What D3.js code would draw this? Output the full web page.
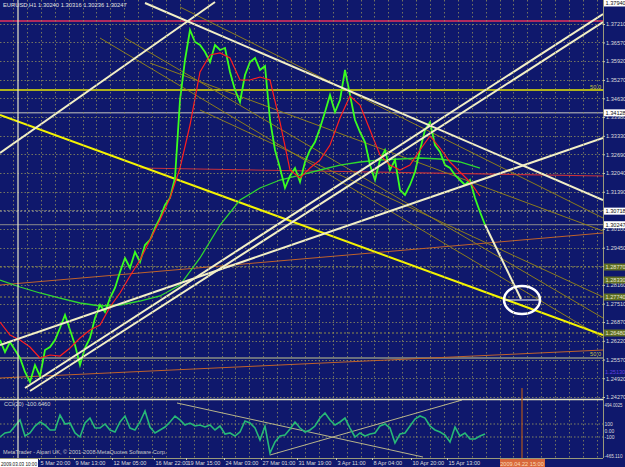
<!DOCTYPE html>
<html>
<head>
<meta charset="utf-8">
<script src="https://cdn.jsdelivr.net/npm/d3@7"></script>
<style>
body { margin: 0; background: #0f186c; }
svg { display: block; }
text { font-family: "Liberation Sans", Arial, sans-serif; }
</style>
</head>
<body>
<div id="chart"></div>
<script>
var width = 625;
var height = 467;
var plotRight = 603;
var mainBottom = 398;
var cciTop = 400;
var cciBottom = 458;

var titleText = "EURUSD,H1  1.30240 1.30316 1.30236 1.30247";
var cciTitle = "CCI(20) -100.6460";
var copyright = "MetaTrader - Alpari UK, \u00a9 2001-2008 MetaQuotes Software Corp.";

// H1 closes, one point every 2.5 bars
var closeStep = 2.5;
var closes = [1.26247, 1.25831, 1.26178, 1.25900, 1.25623, 1.25137, 1.24790, 1.25380, 1.24998, 1.25900,
	1.26004, 1.26247, 1.26664, 1.27115, 1.26594, 1.26074, 1.25380, 1.25970, 1.26317, 1.27011,
	1.27462, 1.27219, 1.27704, 1.28051, 1.28606, 1.29092, 1.28745, 1.29300, 1.28953, 1.29543,
	1.29717, 1.30133, 1.30480, 1.30931, 1.31174, 1.31867, 1.34573, 1.35961, 1.37002, 1.36586,
	1.36481, 1.36239, 1.35892, 1.36481, 1.36308, 1.36377, 1.35545, 1.34920, 1.34504, 1.35441,
	1.35892, 1.36030, 1.35614, 1.35753, 1.33880, 1.32839, 1.32214, 1.31521, 1.31937, 1.32214,
	1.31729, 1.32423, 1.32839, 1.33116, 1.33602, 1.34157, 1.34747, 1.34157, 1.34573, 1.35614,
	1.34747, 1.33880, 1.33463, 1.33116, 1.32318, 1.31798, 1.32492, 1.32839, 1.32145, 1.32492,
	1.31451, 1.31278, 1.31625, 1.32076, 1.32839, 1.33533, 1.33810, 1.33012, 1.32769, 1.32318,
	1.32214, 1.31971, 1.31798, 1.31625, 1.31798, 1.31174, 1.30688, 1.30247];

var redStep = 5;
var redMa = [1.26872, 1.26421, 1.26247, 1.26004, 1.25623, 1.25727, 1.25692, 1.25970, 1.26317, 1.26594,
	1.26768, 1.27392, 1.27878, 1.28468, 1.29023, 1.29717, 1.30410, 1.31174, 1.32214, 1.33706,
	1.35545, 1.36135, 1.36204, 1.36030, 1.35267, 1.35267, 1.35371, 1.35267, 1.33810, 1.32145,
	1.31867, 1.32214, 1.32492, 1.33012, 1.33949, 1.34712, 1.34400, 1.33533, 1.32665, 1.32318,
	1.32145, 1.32318, 1.32839, 1.33325, 1.32908, 1.32423, 1.32076, 1.31729, 1.31243];

var greenStep = 10;
var greenMa = [1.28329, 1.28086, 1.27878, 1.27704, 1.27531, 1.27427, 1.27462, 1.27600, 1.27774, 1.28155,
	1.29092, 1.30237, 1.31104, 1.31521, 1.31798, 1.31971, 1.32145, 1.32318, 1.32423, 1.32492,
	1.32527, 1.32561, 1.32527, 1.32423, 1.32214];

var cciStep = 2.5;
var cci = [-100, -38, -23, 69, 162, -85, -38, 69, 131, 85,
	8, 8, 238, 100, 115, -38, -100, 115, 192, 38,
	38, 100, 8, -23, 131, 223, 38, 8, 131, 300,
	54, -38, 8, 54, 131, 223, 162, 85, 115, 69,
	85, 54, 85, 8, 69, -54, -38, -85, -23, 146,
	115, 38, -146, 69, -346, -177, -85, -69, 23, 131,
	38, -23, 8, 69, 192, 269, 162, 85, 131, 192,
	38, -100, -38, -85, -54, -38, 69, 100, 38, -192,
	-54, -38, 69, 177, 223, 192, 69, 8, -23, -69,
	-177, 54, -85, -38, -131, -131, -85, -54];

var priceTicks = [1.37210, 1.36570, 1.35920, 1.35270, 1.34630, 1.33980, 1.33330, 1.32690, 1.32040, 1.31390,
	1.30750, 1.30100, 1.29450, 1.28810, 1.28160, 1.27510, 1.26870, 1.26220, 1.25570, 1.24920, 1.24270];

var timeBars = [19.5, 37, 56, 77, 93, 112, 130.5, 148.5, 168, 186, 205.5, 223.5];
var timeLabels = ["5 Mar 20:00", "9 Mar 13:00", "12 Mar 05:00", "16 Mar 22:00", "19 Mar 15:00", "24 Mar 03:00",
	"27 Mar 01:00", "31 Mar 19:00", "3 Apr 11:00", "8 Apr 04:00", "10 Apr 20:00", "15 Apr 13:00"];
var firstTime = "2009.03.03 10:00";
var markerTime = "2009.04.22 15:00";
var markerBar = 261;
var separatorBar = 9;

// horizontal levels: price, kind
var levelPrices = [1.37314, 1.34920, 1.34128, 1.30718, 1.30247, 1.28780, 1.27739, 1.26490, 1.25623];
var levelKinds = ["red", "yellow", "grey", "dotgrey", "bid", "olive", "olive", "olive", "pale"];

// trend lines: [bar1, price1, bar2, price2]
var whiteLines = [
	[72.5, 1.37939, 301.5, 1.31104],
	[12.5, 1.24583, 301.5, 1.37557],
	[15, 1.24478, 301.5, 1.37279],
	[0, 1.32735, 107.5, 1.37973],
	[0, 1.26074, 301.5, 1.33255],
	[242.5, 1.30247, 260.5, 1.27670]
];
var yellowLines = [[0, 1.34053, 301.5, 1.26421]];
var oliveLines = [
	[50, 1.36724, 301.5, 1.26317],
	[62.5, 1.36724, 301.5, 1.27011],
	[75, 1.35857, 301.5, 1.30029],
	[90, 1.37800, 301.5, 1.30480],
	[100, 1.34226, 301.5, 1.27739]
];
var redLines = [[70, 1.32214, 301.5, 1.31937]];
var orangeLines = [[0, 1.28155, 301.5, 1.29960], [0, 1.24929, 301.5, 1.25900]];
var cciLines = [[88.5, 423, 211.5, -408], [135, -377, 231, 469]];

var target = {bar: 261, price: 1.27635};

// boxed price labels: price, text, kind
var boxPrices = [1.37939, 1.34128, 1.30718, 1.30247, 1.28780, 1.28329, 1.27739, 1.26490];
var boxTexts = ["1.37940", "1.34128", "1.30718", "1.30247", "1.28770", "1.28330", "1.27740", "1.26480"];
var boxKinds = ["white", "white", "white", "white", "green", "green", "green", "green"];

var x = d3.scaleLinear().domain([0, 300]).range([0, 600]);
var y = d3.scaleLinear().domain([1.2427, 1.3721]).range([397, 24]);
var yc = d3.scaleLinear().domain([-100, 100]).range([437, 424]);

var svg = d3.select("#chart").append("svg")
	.attr("width", width)
	.attr("height", height);

svg.append("rect").attr("width", width).attr("height", height).attr("fill", "#0f186c");

var defs = svg.append("defs");
defs.append("clipPath").attr("id", "clipMain").append("rect")
	.attr("x", 0).attr("y", 0).attr("width", plotRight).attr("height", mainBottom);
defs.append("clipPath").attr("id", "clipCci").append("rect")
	.attr("x", 0).attr("y", cciTop).attr("width", plotRight).attr("height", cciBottom - cciTop);

var gridColor = "#8e8e5e";

// grid
var main = svg.append("g").attr("clip-path", "url(#clipMain)");
main.selectAll("line.hgrid")
	.data(priceTicks)
	.enter()
	.append("line")
	.attr("x1", 0).attr("x2", plotRight)
	.attr("y1", function (d) { return Math.round(y(d)) + 0.5; })
	.attr("y2", function (d) { return Math.round(y(d)) + 0.5; })
	.attr("stroke", gridColor).attr("stroke-width", 0.8).attr("stroke-dasharray", "1.5,2");

var vgrid = d3.range(6.5, 301, 6.95);
svg.selectAll("line.vgrid")
	.data(vgrid)
	.enter()
	.append("line")
	.attr("x1", function (d) { return Math.round(x(d)) + 0.5; })
	.attr("x2", function (d) { return Math.round(x(d)) + 0.5; })
	.attr("y1", 0).attr("y2", cciBottom)
	.attr("stroke", gridColor).attr("stroke-width", 0.8).attr("stroke-dasharray", "1.5,2.5");

var levelStyle = {
	red: ["#e8305a", 1.6, null],
	yellow: ["#e6e600", 1.6, null],
	grey: ["#c8c8c0", 1, null],
	dotgrey: ["#9a9a9a", 1, "2,2"],
	bid: ["#8c8c8c", 1, null],
	olive: ["#8e8a4a", 1, "2,2"],
	pale: ["#c8c890", 1.2, null]
};

main.selectAll("line.level")
	.data(levelPrices)
	.enter()
	.append("line")
	.attr("x1", 0).attr("x2", plotRight)
	.attr("y1", function (d) { return y(d); })
	.attr("y2", function (d) { return y(d); })
	.attr("stroke", function (d, i) { return levelStyle[levelKinds[i]][0]; })
	.attr("stroke-width", function (d, i) { return levelStyle[levelKinds[i]][1]; })
	.attr("stroke-dasharray", function (d, i) { return levelStyle[levelKinds[i]][2]; });

function drawSegments(g, data, color, w, yScale)
{
	g.selectAll(null)
		.data(data)
		.enter()
		.append("line")
		.attr("x1", function (d) { return x(d[0]); })
		.attr("y1", function (d) { return yScale(d[1]); })
		.attr("x2", function (d) { return x(d[2]); })
		.attr("y2", function (d) { return yScale(d[3]); })
		.attr("stroke", color)
		.attr("stroke-width", w);
}

drawSegments(main, orangeLines, "#c0622a", 1, y);
drawSegments(main, redLines, "#c8303c", 1.1, y);
drawSegments(main, oliveLines, "#8c7c1c", 1, y);
drawSegments(main, yellowLines, "#f4f400", 2, y);

// moving averages and price
function series(values, step)
{
	return values.map(function (v, i) { return [x(i * step), y(v)]; });
}
var line = d3.line();

main.append("path")
	.attr("d", line(series(greenMa, greenStep)))
	.attr("fill", "none").attr("stroke", "#2fd82f").attr("stroke-width", 1.3);

main.append("path")
	.attr("d", line(series(closes, closeStep)))
	.attr("fill", "none").attr("stroke", "#39ff1e").attr("stroke-width", 1.8)
	.attr("stroke-linejoin", "miter");

main.append("path")
	.attr("d", line(series(redMa, redStep)))
	.attr("fill", "none").attr("stroke", "#ff1e1e").attr("stroke-width", 1.2);

drawSegments(main, whiteLines, "#f2efc6", 2, y);

// target ellipse
main.append("ellipse")
	.attr("cx", x(target.bar))
	.attr("cy", y(target.price))
	.attr("rx", x(target.bar + 9) - x(target.bar))
	.attr("ry", 14)
	.attr("fill", "none").attr("stroke", "#ffffff").attr("stroke-width", 2.5);
main.append("line")
	.attr("x1", x(target.bar - 9)).attr("x2", x(target.bar + 9))
	.attr("y1", y(target.price)).attr("y2", y(target.price))
	.attr("stroke", "#ffffff").attr("stroke-width", 1.2);

// fib labels
var fibLabels = [[1.34920, "50.0"], [1.25623, "50.0"]];
svg.selectAll("text.fib")
	.data(fibLabels)
	.enter()
	.append("text")
	.attr("x", 601).attr("y", function (d) { return y(d[0]) - 1.5; })
	.attr("text-anchor", "end")
	.attr("font-size", 5.6)
	.attr("fill", "#c8c040")
	.text(function (d) { return d[1]; });

// CCI window
var sub = svg.append("g").attr("clip-path", "url(#clipCci)");
sub.selectAll("line.clevel")
	.data([100, -100])
	.enter()
	.append("line")
	.attr("x1", 0).attr("x2", plotRight)
	.attr("y1", function (d) { return yc(d); })
	.attr("y2", function (d) { return yc(d); })
	.attr("stroke", "#a0a060").attr("stroke-width", 0.8).attr("stroke-dasharray", "1.5,2");

drawSegments(sub, cciLines, "#b8b48a", 1, yc);

sub.append("path")
	.attr("d", d3.line()(cci.map(function (v, i) { return [x(i * cciStep), yc(v)]; })))
	.attr("fill", "none").attr("stroke", "#27b877").attr("stroke-width", 1.6);

// separators and frame
svg.append("line").attr("x1", 0).attr("x2", plotRight).attr("y1", 399.5).attr("y2", 399.5)
	.attr("stroke", "#e8e6c8").attr("stroke-width", 1.5);
svg.append("line").attr("x1", 0).attr("x2", plotRight).attr("y1", cciBottom + 0.5).attr("y2", cciBottom + 0.5)
	.attr("stroke", "#9a9a7a").attr("stroke-width", 1);
svg.append("line").attr("x1", plotRight + 0.5).attr("x2", plotRight + 0.5).attr("y1", 0).attr("y2", cciBottom)
	.attr("stroke", "#9a9a7a").attr("stroke-width", 1);
svg.append("line").attr("x1", x(separatorBar)).attr("x2", x(separatorBar)).attr("y1", 0).attr("y2", cciBottom)
	.attr("stroke", "#e8e6c8").attr("stroke-width", 1.2);
svg.append("line").attr("x1", x(markerBar)).attr("x2", x(markerBar)).attr("y1", 388).attr("y2", cciBottom)
	.attr("stroke", "#b0561c").attr("stroke-width", 1.2);

// price axis
var priceAxis = svg.append("g")
	.attr("transform", "translate(" + plotRight + ",0)")
	.call(d3.axisRight(y).tickValues(priceTicks).tickSize(2).tickPadding(1).tickFormat(d3.format(".5f")));
priceAxis.select(".domain").remove();
priceAxis.selectAll("line").attr("stroke", "#c8c8b0");
priceAxis.selectAll("text").attr("font-size", 5.6).attr("fill", "#dcdcdc")
	.attr("font-family", "Liberation Sans, Arial, sans-serif");

// boxed price labels
var boxes = svg.selectAll("g.box")
	.data(boxPrices)
	.enter()
	.append("g")
	.attr("transform", function (d) { return "translate(" + (plotRight + 1) + "," + y(d) + ")"; });
boxes.append("rect")
	.attr("x", 0).attr("y", -3.5).attr("width", 21).attr("height", 7)
	.attr("fill", function (d, i) { return boxKinds[i] == "white" ? "#ffffff" : "#5f6e22"; });
boxes.append("text")
	.attr("x", 1.5).attr("y", 2)
	.attr("font-size", 5.6)
	.attr("fill", function (d, i) { return boxKinds[i] == "white" ? "#101010" : "#e8e8d0"; })
	.text(function (d, i) { return boxTexts[i]; });

svg.append("text").attr("x", 605).attr("y", 374).attr("font-size", 5.6).attr("fill", "#6040e0").text("1.25130");

// CCI scale labels
var cciScaleValues = [494.0025, 100, 0, -100, -465.11];
var cciScaleTexts = ["494.0025", "100", "0.00", "-100", "-465.110"];
var cciScaleY = d3.scaleLinear().domain([-465.11, 494.0025]).range([456, 405]);
svg.selectAll("text.cciLab")
	.data(cciScaleValues)
	.enter()
	.append("text")
	.attr("x", 604.5)
	.attr("y", function (d, i) { return (i == 0 || i == 4) ? cciScaleY(d) + 2 : yc(d) + 2; })
	.attr("font-size", 5)
	.attr("fill", "#dcdcdc")
	.attr("textLength", function (d, i) { return (i == 0 || i == 4) ? 18 : null; })
	.attr("lengthAdjust", "spacingAndGlyphs")
	.text(function (d, i) { return cciScaleTexts[i]; });

// time axis
var timeAxis = svg.append("g")
	.attr("transform", "translate(0," + cciBottom + ")")
	.call(d3.axisBottom(x).tickValues(timeBars).tickSize(2).tickPadding(1)
		.tickFormat(function (d, i) { return timeLabels[i]; }));
timeAxis.select(".domain").remove();
timeAxis.selectAll("line").attr("stroke", "#c8c8b0");
timeAxis.selectAll("text").attr("font-size", 5.6).attr("fill", "#dcdcdc")
	.attr("text-anchor", "start").attr("dx", 1)
	.attr("font-family", "Liberation Sans, Arial, sans-serif");

svg.append("rect").attr("x", 0).attr("y", 459).attr("width", 38).attr("height", 8).attr("fill", "#ffffff");
svg.append("text").attr("x", 1).attr("y", 465.5).attr("font-size", 5.2).attr("fill", "#101010")
	.attr("textLength", 36).attr("lengthAdjust", "spacingAndGlyphs").text(firstTime);

svg.append("rect").attr("x", x(markerBar) - 22).attr("y", 459).attr("width", 45).attr("height", 8).attr("fill", "#d8683c");
svg.append("text").attr("x", x(markerBar)).attr("y", 465.5).attr("text-anchor", "middle")
	.attr("font-size", 5.6).attr("fill", "#f8dcb8").text(markerTime);

// titles
svg.append("text").attr("x", 3).attr("y", 7).attr("font-size", 5.8).attr("fill", "#e0e0e0").text(titleText);
svg.append("text").attr("x", 4).attr("y", 406).attr("font-size", 5.6).attr("fill", "#d8d8d8").text(cciTitle);
svg.append("text").attr("x", 3).attr("y", 454).attr("font-size", 5.6).attr("fill", "#c8c8c8").text(copyright);
</script>
</body>
</html>
